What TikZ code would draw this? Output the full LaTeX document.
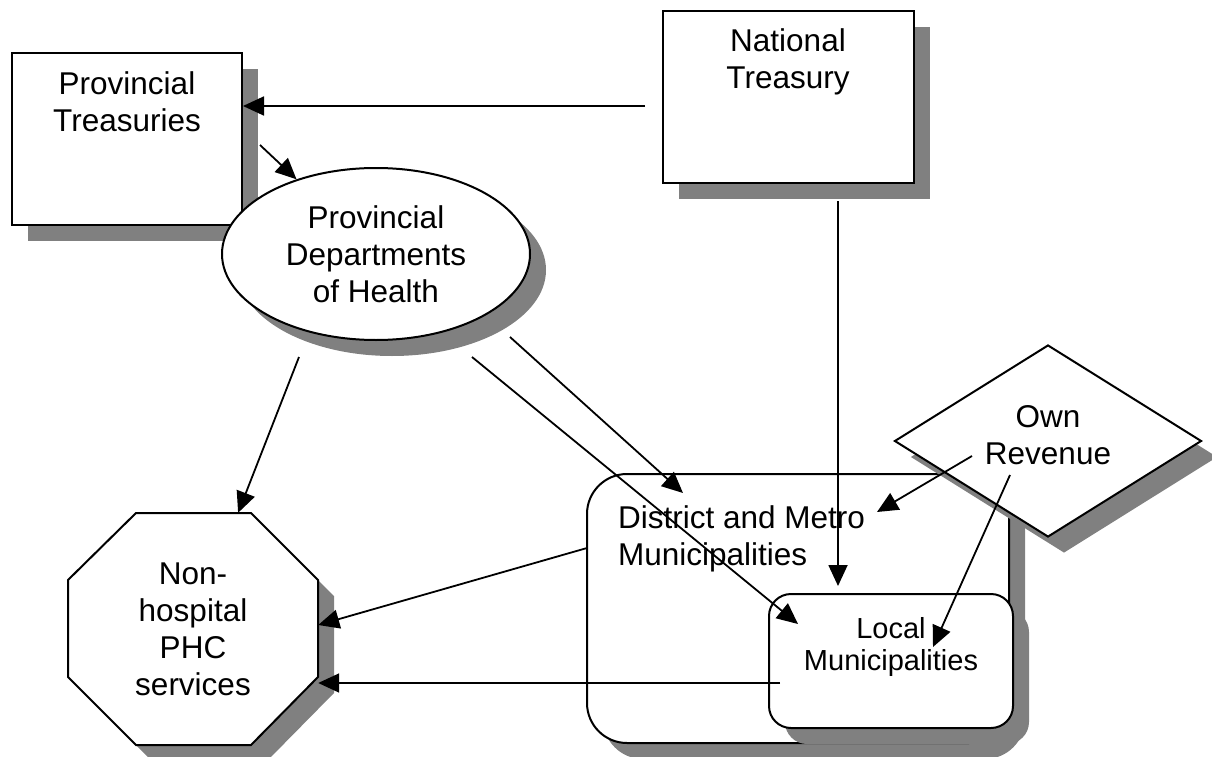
\documentclass[tikz,border=0pt]{standalone}
\usepackage{fontspec}
\setmainfont{Liberation Sans}
\usepackage{tikz}
\usetikzlibrary{shapes.geometric,shadows,arrows.meta}

\begin{document}
\begin{tikzpicture}[x=1pt, y=-1pt,
    shadowed/.style={drop shadow={shadow xshift=16pt, shadow yshift=-16pt, fill=black!50, opacity=1}},
    box/.style={draw, line width=2pt, fill=white, shadowed},
    txt/.style={inner sep=0pt, align=center, font=\fontsize{31.5}{37}\selectfont},
    arr/.style={line width=1.8pt, -{Triangle[length=21pt, width=19pt]}}]
    \useasboundingbox (0,0) rectangle (1212,757);

    % Treasuries
    \node[box, minimum width=230pt, minimum height=172pt] (pt) at (127,139) {};
    \node[txt, anchor=north] (ptlabel) at (127,71) {Provincial\\Treasuries};
    \node[box, minimum width=251pt, minimum height=172pt] (nt) at (788.5,97) {};
    \node[txt, anchor=north] (ntlabel) at (788,28) {National\\Treasury};

    % Provincial health
    \node[box, ellipse, minimum width=308pt, minimum height=172pt, txt] (pdh) at (376,254) {Provincial\\Departments\\of Health};

    % Non-hospital services (octagon)
    \draw[line width=2pt, fill=white, shadowed] (136,513) -- (251,513) -- (318,580) -- (318,677)
        -- (251,745) -- (136,745) -- (68,677) -- (68,580) -- cycle;
    \node[txt, minimum width=250pt, minimum height=232pt] (phc) at (193,629) {Non-\\hospital\\PHC\\services};

    % Municipalities
    \node[box, rounded corners=40pt, minimum width=422pt, minimum height=269pt] (dm) at (798,608.5) {};
    \node[txt, align=left, anchor=north west] (dmlabel) at (618,505) {District and Metro\\Municipalities};
    \node[box, rounded corners=22pt, minimum width=244pt, minimum height=134pt] (lm) at (891,661) {};
    \node[txt, font=\fontsize{29}{32}\selectfont, anchor=north] (lmlabel) at (891,617) {Local\\Municipalities};

    % Own revenue
    \node[box, diamond, inner sep=0pt, minimum width=307pt, minimum height=192pt] (own) at (1048,441) {};
    \node[txt, anchor=north] (ownlabel) at (1048,405) {Own\\Revenue};

    % connector ends
    \coordinate (ntleft) at (645,106);
    \coordinate (ptout) at (260,145);
    \coordinate (ntdown) at (838,201);
    \coordinate (lmtop) at (838,586);
    \coordinate (pdhsw) at (299,357);
    \coordinate (pdhse) at (472,357);
    \coordinate (pdhe) at (510,337);
    \coordinate (dmin) at (683,493);
    \coordinate (lmin) at (798,624);
    \coordinate (ownw) at (972,456);
    \coordinate (owns) at (1010,475);
    \coordinate (dmright) at (877,512);
    \coordinate (lmright) at (933,647);
    \coordinate (dmwest) at (587,548);
    \coordinate (lmwest) at (780,683);

    % flows
    \draw[arr] (ntleft) -- (pt.east |- ntleft);
    \draw[arr] (ptout) -- (pdh);
    \draw[arr] (pdhsw) -- (phc);
    \draw[arr] (pdhe) -- (dmin);
    \draw[arr] (pdhse) -- (lmin);
    \draw[arr] (ntdown) -- (lmtop);
    \draw[arr] (ownw) -- (dmright);
    \draw[arr] (owns) -- (lmright);
    \draw[arr] (dmwest) -- (phc.east |- 0,625);
    \draw[arr] (lmwest) -- (phc.east |- lmwest);
\end{tikzpicture}
\end{document}
